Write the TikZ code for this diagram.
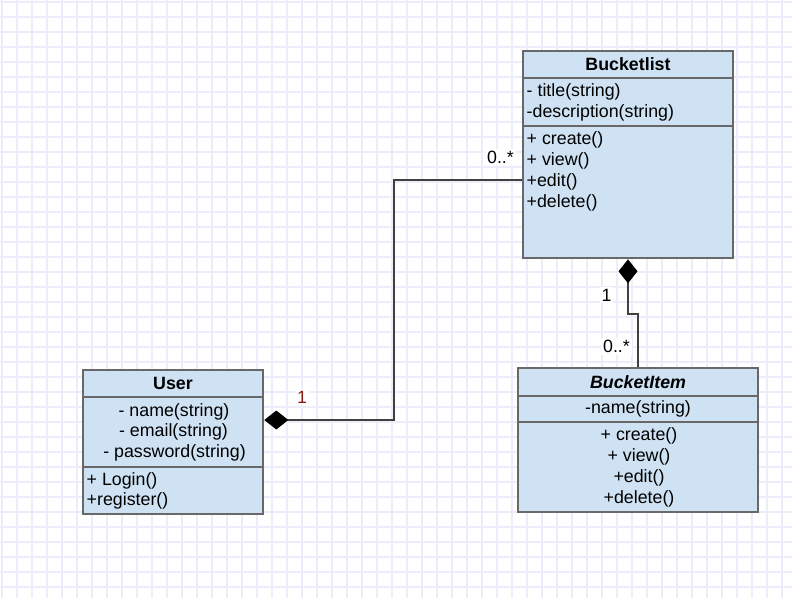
\documentclass[tikz,border=0pt]{standalone}
\usepackage{fontspec}
\setmainfont{Liberation Sans}
\usepackage{tikz}
\usetikzlibrary{arrows.meta,positioning}
\definecolor{classfill}{HTML}{CFE2F3}
\definecolor{classline}{HTML}{686868}
\definecolor{wireline}{HTML}{404040}
\definecolor{gridblue}{HTML}{ECECFB}
\definecolor{multred}{HTML}{8B1A1A}

\begin{document}
\begin{tikzpicture}[x=1pt,y=-1pt,
  every node/.style={font=\fontsize{17.8}{21}\selectfont,inner sep=0pt},
  gridline/.style={gridblue,line width=1.4pt},
  classbox/.style={draw=classline,line width=2.6pt,fill=classfill},
  divider/.style={classline,line width=2.6pt},
  classname/.style={font=\fontsize{17.8}{21}\selectfont\bfseries},
  member/.style={anchor=west},
  wire/.style={draw=wireline,line width=2pt},
  mult/.style={fill=white,inner sep=2pt}]
  \fill[white] (0,0) rectangle (792,598);
  \useasboundingbox (0,0) rectangle (792,598);
  \foreach \gx in {2,17,...,792} \draw[gridline] (\gx,0)--(\gx,598);
  \foreach \gy in {2,17,...,598} \draw[gridline] (0,\gy)--(792,\gy);

  \node[classbox,minimum width=210pt,minimum height=207pt] (bucketlist) at (628,154.5) {};
  \draw[divider] (523,78)--(733,78);
  \draw[divider] (523,126)--(733,126);
  \node[classname] (bl-name) at (628,64.5) {Bucketlist};
  \node[member] (bl-title) at (526.5,92) {- title(string)};
  \node[member] (bl-desc) at (526.5,112.5) {-description(string)};
  \node[member] (bl-create) at (526.5,139.5) {+ create()};
  \node[member] (bl-view) at (526.5,160.5) {+ view()};
  \node[member] (bl-edit) at (526.5,181.5) {+edit()};
  \node[member] (bl-delete) at (526.5,203) {+delete()};

  \node[classbox,minimum width=180pt,minimum height=144pt] (user) at (173,442) {};
  \draw[divider] (83,397)--(263,397);
  \draw[divider] (83,467)--(263,467);
  \node[classname] (us-name) at (173,383.5) {User};
  \node (us-uname) at (174,411.5) {- name(string)};
  \node (us-email) at (173.5,432) {- email(string)};
  \node (us-pass) at (174.5,453) {- password(string)};
  \node[member] (us-login) at (86.5,480.5) {+ Login()};
  \node[member] (us-register) at (86.5,501) {+register()};

  \node[classbox,minimum width=240pt,minimum height=144pt] (bucketitem) at (638,440) {};
  \draw[divider] (518,396)--(758,396);
  \draw[divider] (518,422)--(758,422);
  \node[classname,font=\fontsize{17.8}{21}\selectfont\bfseries\itshape] (bi-name) at (638,382) {BucketItem};
  \node (bi-iname) at (638,408.5) {-name(string)};
  \node (bi-create) at (639,435.5) {+ create()};
  \node (bi-view) at (639,457) {+ view()};
  \node (bi-edit) at (639,478) {+edit()};
  \node (bi-delete) at (639,499) {+delete()};

  \draw[wire,{Diamond[length=24pt,width=19pt,color=black]}-] ([yshift=22pt]user.east) -- ++(130,0) |- ([yshift=-25.5pt]bucketlist.west);
  \draw[wire,{Diamond[length=24pt,width=19pt,color=black]}-] (bucketlist.south) -- ++(0,55) -| (bucketitem.north);

  \node[mult] (m-bl) at (500.5,157) {0..*};
  \node[mult,text=multred] (m-us) at (302,397) {1};
  \node[mult] (m-top) at (606.5,295) {1};
  \node[mult] (m-bi) at (616.5,346.5) {0..*};
\end{tikzpicture}
\end{document}
